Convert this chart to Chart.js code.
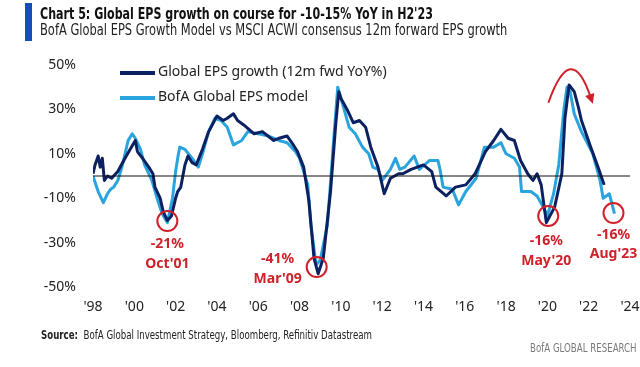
<!DOCTYPE html>
<html>
<head>
<meta charset="utf-8">
<script src="https://cdn.jsdelivr.net/npm/chart.js@4/dist/chart.umd.min.js"></script>
<style>
  body { margin: 0; background: #fff; }
  #wrap { position: relative; width: 640px; height: 367px; overflow: hidden; background: #fff; }
  #c { position: absolute; left: 0; top: 0; }
  .bar { position: absolute; left: 25px; top: 3px; width: 7px; height: 38px; background: #1450b4; }
  .narrow { font-family: "Liberation Sans Narrow", "DejaVu Sans Condensed", sans-serif; white-space: nowrap; position: absolute; transform-origin: left top; }
  .title { left: 40px; top: 4px; font-size: 16px; font-weight: bold; color: #111; transform: scaleX(0.77); }
  .sub { left: 40px; top: 21px; font-size: 15px; color: #222; transform: scaleX(0.85); }
  .src { left: 41px; top: 328px; font-size: 12px; color: #222; transform: scaleX(0.8); }
  .brand { left: 530px; top: 341px; font-size: 12px; color: #7a7a7a; transform: scaleX(0.8); }
</style>
</head>
<body>
<div id="wrap">
  <canvas id="c" width="640" height="367"></canvas>
  <div class="bar"></div>
  <div class="narrow title">Chart 5: Global EPS growth on course for -10-15% YoY in H2'23</div>
  <div class="narrow sub">BofA Global EPS Growth Model vs MSCI ACWI consensus 12m forward EPS growth</div>
  <div class="narrow src"><b>Source:</b>&nbsp; BofA Global Investment Strategy, Bloomberg, Refinitiv Datastream</div>
  <div class="narrow brand">BofA GLOBAL RESEARCH</div>
</div>
<script>
// ── 데이터 ──
const darkYears = [1998.0, 1998.1, 1998.25, 1998.35, 1998.45, 1998.55, 1998.7, 1998.9, 1999.2, 1999.55, 1999.8,
  2000.05, 2000.15, 2000.4, 2000.7, 2000.9, 2001.0, 2001.25, 2001.4, 2001.6, 2001.8, 2002.0, 2002.1, 2002.25,
  2002.45, 2002.6, 2002.8, 2003.0, 2003.3, 2003.6, 2004.0, 2004.3, 2004.5, 2004.8, 2005.0, 2005.3, 2005.8,
  2006.2, 2006.75, 2007.0, 2007.4, 2007.7, 2007.9, 2008.2, 2008.45, 2008.7, 2008.9, 2009.15, 2009.5, 2009.75,
  2009.9, 2010.0, 2010.3, 2010.6, 2010.9, 2011.2, 2011.45, 2011.8, 2012.1, 2012.4, 2012.8, 2013.0, 2013.4,
  2014.0, 2014.4, 2014.6, 2015.1, 2015.55, 2016.05, 2016.5, 2017.0, 2017.4, 2017.75, 2018.1, 2018.4, 2018.7,
  2019.05, 2019.3, 2019.5, 2019.7, 2019.95, 2020.35, 2020.7, 2020.85, 2021.05, 2021.3, 2021.5, 2021.65,
  2022.1, 2022.45, 2022.75];
const darkValues = [1, 5, 9, 4, 8, -2, 0, -1, 2, 8, 12,
  16, 11, 8, 4, 1, -5, -10, -16, -20, -18, -10, -7, -5,
  5, 9, 6, 5, 12, 20, 27, 25, 26, 28, 25, 23, 19,
  20, 16, 17, 18, 14, 11, 4, -11, -37, -44, -37, -7, 23,
  38, 35, 30, 24, 25, 22, 13, 4, -8, -1, 1, 1, 3,
  5, 2, -5, -9, -5, -4, 1, 11, 16, 21, 17, 16, 7,
  1, -2, 1, -4, -21, -14, 1, 26, 41, 38, 31, 25,
  13, 4, -4];

const lightYears = [1998.0, 1998.25, 1998.5, 1998.7, 1998.85, 1999.0, 1999.2, 1999.4, 1999.7, 1999.9, 2000.05,
  2000.3, 2000.5, 2000.85, 2001.1, 2001.35, 2001.6, 2001.85, 2002.0, 2002.1, 2002.2, 2002.45, 2002.8, 2003.1,
  2003.3, 2003.6, 2003.9, 2004.2, 2004.5, 2004.8, 2005.2, 2005.5, 2006.0, 2006.5, 2007.0, 2007.4, 2007.8,
  2008.0, 2008.4, 2008.55, 2008.8, 2009.0, 2009.35, 2009.65, 2009.85, 2010.1, 2010.4, 2010.7, 2011.05, 2011.35,
  2011.55, 2011.8, 2012.0, 2012.4, 2012.65, 2012.85, 2013.1, 2013.55, 2013.8, 2014.3, 2014.7, 2014.8, 2014.95,
  2015.4, 2015.7, 2016.05, 2016.55, 2016.95, 2017.4, 2017.75, 2018.0, 2018.4, 2018.65, 2018.75, 2019.2, 2019.5,
  2019.8, 2020.0, 2020.3, 2020.55, 2020.8, 2020.95, 2021.1, 2021.3, 2021.65, 2022.2, 2022.55, 2022.7, 2023.0,
  2023.25];
const lightValues = [0, -7, -12, -8, -6, -5, -2, 4, 16, 19, 17,
  12, 5, -2, -10, -17, -21, -10, 2, 8, 13, 12, 8, 4,
  10, 20, 26, 25, 22, 14, 16, 20, 19, 18, 16, 15, 11,
  8, -4, -22, -40, -38, -22, 16, 40, 32, 22, 19, 13, 10,
  4, 3, -2, 3, 8, 3, 4, 9, 3, 7, 7, 3, -5,
  -6, -13, -7, -1, 13, 13, 15, 10, 8, 4, -7, -7, -9,
  -14, -18, -8, 5, 30, 40, 38, 28, 20, 10, -2, -10, -8,
  -17];

const xTicks = [1998, 2000, 2002, 2004, 2006, 2008, 2010, 2012, 2014, 2016, 2018, 2020, 2022, 2024];
const yTicks = [-50, -30, -10, 10, 30, 50];

// 동그라미 주석 (저점)
const noteYears = [2001.6, 2008.83, 2020.04, 2023.2];
const noteValues = [-20.3, -41, -18, -16.7];
const notePct = ['-21%', '-41%', '-16%', '-16%'];
const noteDates = ["Oct'01", "Mar'09", "May'20", "Aug'23"];

// 빨간 화살표 (시작, 제어점, 끝)
const arrowYears = [2020.05, 2021.15, 2022.2];
const arrowValues = [33, 62, 32.5];

const DARK = '#0c2161';
const LIGHT = '#2aa4dc';
const RED = '#d0202a';

const toPts = (xs, ys) => xs.map((x, i) => ({ x, y: ys[i] }));

/** 범례 + 주석 그리기 */
const overlay = {
  id: 'overlay',
  afterDatasetsDraw(chart) {
    const { ctx, scales: { x, y } } = chart;
    ctx.save();

    // 범례
    const items = [chart.data.datasets[1], chart.data.datasets[2]];
    items.forEach((ds, i) => {
      const ly = 73 + i * 25;
      ctx.strokeStyle = ds.borderColor;
      ctx.lineWidth = 4;
      ctx.beginPath();
      ctx.moveTo(120, ly);
      ctx.lineTo(155, ly);
      ctx.stroke();
      ctx.fillStyle = '#222';
      ctx.font = '14px "Noto Sans"';
      ctx.textBaseline = 'middle';
      ctx.textAlign = 'left';
      ctx.fillText(ds.label, 158, ly - 1);
    });

    // 동그라미 + 라벨
    const offs = [[0, 23, 43], [-39, -8, 12], [-2, 25, 45], [0, 22, 41]];
    noteYears.forEach((yr, i) => {
      const px = x.getPixelForValue(yr);
      const py = y.getPixelForValue(noteValues[i]);
      ctx.strokeStyle = RED;
      ctx.lineWidth = 2;
      ctx.beginPath();
      ctx.arc(px, py, 10, 0, Math.PI * 2);
      ctx.stroke();
      ctx.fillStyle = RED;
      ctx.font = 'bold 14px "Noto Sans"';
      ctx.textAlign = 'center';
      ctx.textBaseline = 'middle';
      const o = offs[i];
      ctx.fillText(notePct[i], px + o[0], py + o[1]);
      ctx.fillText(noteDates[i], px + o[0], py + o[2]);
    });

    // 화살표
    const ap = arrowYears.map((yr, i) => [x.getPixelForValue(yr), y.getPixelForValue(arrowValues[i])]);
    ctx.strokeStyle = RED;
    ctx.lineWidth = 2;
    ctx.beginPath();
    ctx.moveTo(ap[0][0], ap[0][1]);
    ctx.quadraticCurveTo(ap[1][0], ap[1][1], ap[2][0] - 2, ap[2][1] - 6);
    ctx.stroke();
    const ang = Math.atan2(ap[2][1] - ap[1][1], ap[2][0] - ap[1][0]);
    const tx = ap[2][0], ty = ap[2][1];
    ctx.beginPath();
    ctx.moveTo(tx, ty);
    ctx.lineTo(tx - 11 * Math.cos(ang - 0.45), ty - 11 * Math.sin(ang - 0.45));
    ctx.lineTo(tx - 11 * Math.cos(ang + 0.45), ty - 11 * Math.sin(ang + 0.45));
    ctx.closePath();
    ctx.fill();

    ctx.restore();
  }
};

new Chart(document.getElementById('c'), {
  type: 'line',
  data: {
    datasets: [
      {
        label: 'zero', data: toPts([xTicks[0], xTicks[xTicks.length - 1]], [0, 0]),
        borderColor: '#111', borderWidth: 1, pointRadius: 0
      },
      {
        label: 'Global EPS growth (12m fwd YoY%)', data: toPts(darkYears, darkValues),
        borderColor: DARK, borderWidth: 3, pointRadius: 0, tension: 0, borderJoinStyle: 'round'
      },
      {
        label: 'BofA Global EPS model', data: toPts(lightYears, lightValues),
        borderColor: LIGHT, borderWidth: 3, pointRadius: 0, tension: 0, borderJoinStyle: 'round'
      }
    ]
  },
  options: {
    responsive: false,
    devicePixelRatio: 1,
    animation: false,
    layout: { padding: { top: 65, right: 10, left: 0, bottom: 0 } },
    plugins: { legend: { display: false }, tooltip: { enabled: false } },
    scales: {
      x: {
        type: 'linear', min: xTicks[0], max: xTicks[xTicks.length - 1],
        afterFit: s => { s.height = 80; s.paddingLeft = 0; s.paddingRight = 0; },
        afterBuildTicks: s => { s.ticks = xTicks.map(v => ({ value: v })); },
        grid: { display: false, drawTicks: false },
        border: { display: false },
        ticks: {
          padding: 12, color: '#222', font: { family: 'Noto Sans', size: 14 },
          maxRotation: 0, autoSkip: false,
          callback: v => "'" + String(v).slice(2)
        }
      },
      y: {
        min: yTicks[0], max: yTicks[yTicks.length - 1],
        afterFit: s => { s.width = 93; },
        afterBuildTicks: s => { s.ticks = yTicks.map(v => ({ value: v })); },
        grid: { display: false, drawTicks: false },
        border: { display: false },
        ticks: {
          padding: 17, color: '#222', font: { family: 'Noto Sans', size: 14 },
          callback: v => v + '%'
        }
      }
    }
  },
  plugins: [overlay]
});
</script>
</body>
</html>
